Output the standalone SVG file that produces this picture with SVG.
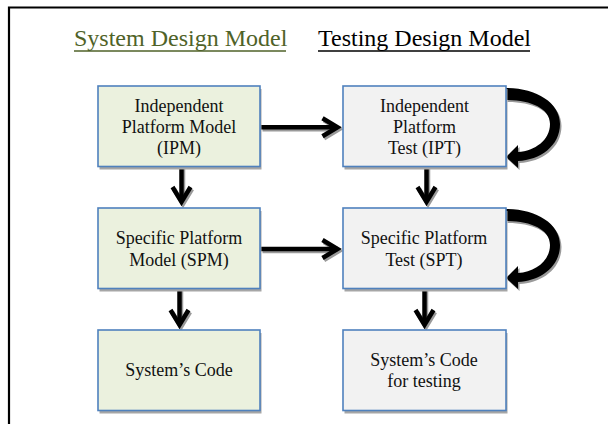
<svg xmlns="http://www.w3.org/2000/svg" width="608" height="424" viewBox="0 0 608 424">
<style>
text{font-family:"Liberation Serif","Times New Roman",serif;}
.t{font-size:18px;fill:#111;text-anchor:middle;}
.title{font-size:24px;}
.g{fill:#EBF1DE;stroke:#4F81BD;stroke-width:1.6;}
.w{fill:#F2F2F2;stroke:#4F81BD;stroke-width:1.6;}
.sh{fill:#A6A6A6;}
.ln{stroke:#000;stroke-width:4.5;fill:none;}
.lns{stroke:#9A9A9A;stroke-width:4.5;fill:none;}
.loop{fill:#000;}
.loops{fill:#9A9A9A;}
</style>
<defs>
<marker id="ah" markerUnits="userSpaceOnUse" viewBox="-30 -20 40 40" refX="0" refY="0" markerWidth="40" markerHeight="40" orient="auto" overflow="visible">
<path d="M-15,-9 L0,0 L-15,9" fill="none" stroke="#000" stroke-width="4.5" stroke-linejoin="miter" stroke-linecap="butt"/>
</marker>
<marker id="ahs" markerUnits="userSpaceOnUse" viewBox="-30 -20 40 40" refX="0" refY="0" markerWidth="40" markerHeight="40" orient="auto" overflow="visible">
<path d="M-15,-9 L0,0 L-15,9" fill="none" stroke="#9A9A9A" stroke-width="4.5" stroke-linejoin="miter" stroke-linecap="butt"/>
</marker>
<path id="loopShape" d="M506,88 C535,88 560,102 560,124 C560,146 540,160 518,161 L518,168 L506,157 L518,145 L518,152 C535,151 550,140 550,124 C550,108 530,100 506,100 Z"/>
</defs>
<rect x="0" y="0" width="608" height="424" fill="#fff"/>
<path d="M9,424 L9,7.5 L608,7.5" fill="none" stroke="#000" stroke-width="2.2"/>
<g id="titles">
<text class="title" x="74" y="46" fill="#4F6228">System Design Model</text>
<line x1="74" y1="51" x2="286" y2="51" stroke="#4F6228" stroke-width="1.6"/>
<text class="title" x="318" y="46" fill="#000">Testing Design Model</text>
<line x1="318" y1="51" x2="530" y2="51" stroke="#000" stroke-width="1.6"/>
</g>
<g id="connectors">
<g transform="translate(1.5,2)">
<path class="lns" d="M261,127.3 L337.5,127.3" marker-end="url(#ahs)"/>
<path class="lns" d="M261,249 L337.5,249" marker-end="url(#ahs)"/>
<path class="lns" d="M181.5,167 L181.5,202" marker-end="url(#ahs)"/>
<path class="lns" d="M179.5,289 L179.5,325" marker-end="url(#ahs)"/>
<path class="lns" d="M426.5,167 L426.5,202" marker-end="url(#ahs)"/>
<path class="lns" d="M424.5,289 L424.5,325" marker-end="url(#ahs)"/>
<use href="#loopShape" class="loops"/>
<use href="#loopShape" class="loops" transform="translate(0,121)"/>
</g>
<path class="ln" d="M261,127.3 L337.5,127.3" marker-end="url(#ah)"/>
<path class="ln" d="M261,249 L337.5,249" marker-end="url(#ah)"/>
<path class="ln" d="M181.5,167 L181.5,202" marker-end="url(#ah)"/>
<path class="ln" d="M179.5,289 L179.5,325" marker-end="url(#ah)"/>
<path class="ln" d="M426.5,167 L426.5,202" marker-end="url(#ah)"/>
<path class="ln" d="M424.5,289 L424.5,325" marker-end="url(#ah)"/>
<use href="#loopShape" class="loop"/>
<use href="#loopShape" class="loop" transform="translate(0,121)"/>
</g>
<g id="ipm">
<rect class="sh" x="99.5" y="89" width="162" height="80.5"/>
<rect class="g" x="98" y="86" width="162" height="80.5"/>
<text class="t" x="179" y="111.7">Independent</text>
<text class="t" x="179" y="132.7">Platform Model</text>
<text class="t" x="179" y="153.5">(IPM)</text>
</g>
<g id="ipt">
<rect class="sh" x="344.5" y="89" width="163" height="80.5"/>
<rect class="w" x="343" y="86" width="163" height="80.5"/>
<text class="t" x="424.5" y="111.7">Independent</text>
<text class="t" x="424.5" y="132.7">Platform</text>
<text class="t" x="424.5" y="153.5">Test (IPT)</text>
</g>
<g id="spm">
<rect class="sh" x="99.5" y="211" width="162" height="80.5"/>
<rect class="g" x="98" y="208" width="162" height="80.5"/>
<text class="t" x="179" y="243.5">Specific Platform</text>
<text class="t" x="179" y="265.5">Model (SPM)</text>
</g>
<g id="spt">
<rect class="sh" x="344.5" y="211" width="163" height="80.5"/>
<rect class="w" x="343" y="208" width="163" height="80.5"/>
<text class="t" x="424" y="243.5">Specific Platform</text>
<text class="t" x="424" y="265.5">Test (SPT)</text>
</g>
<g id="code">
<rect class="sh" x="99.5" y="333" width="162" height="80.5"/>
<rect class="g" x="98" y="330" width="162" height="80.5"/>
<text class="t" x="179" y="376">System’s Code</text>
</g>
<g id="codetest">
<rect class="sh" x="344.5" y="333" width="163" height="80.5"/>
<rect class="w" x="343" y="330" width="163" height="80.5"/>
<text class="t" x="424" y="365.5">System’s Code</text>
<text class="t" x="424" y="386.5">for testing</text>
</g>
</svg>
